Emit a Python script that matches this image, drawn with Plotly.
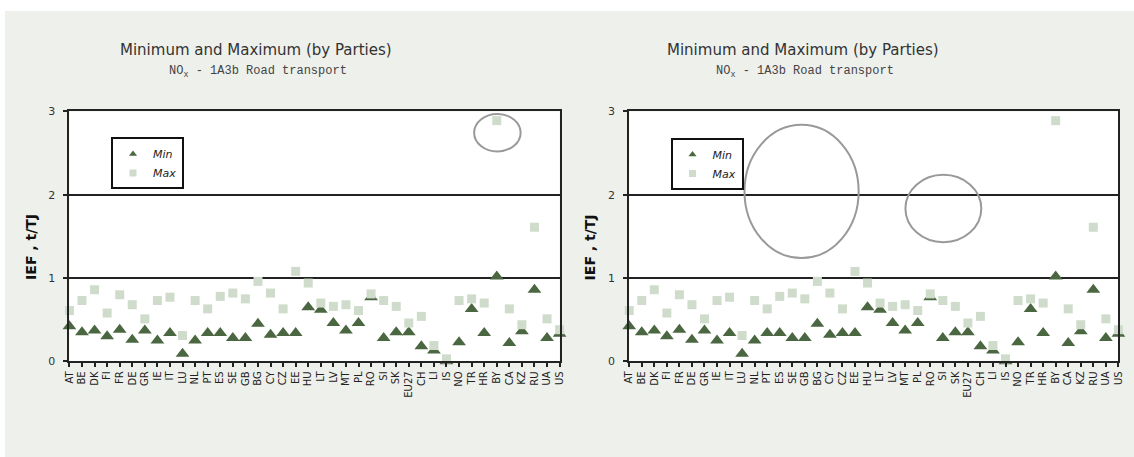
import plotly.graph_objects as go

countries = ["AT", "BE", "DK", "FI", "FR", "DE", "GR", "IE", "IT", "LU",
             "NL", "PT", "ES", "SE", "GB", "BG", "CY", "CZ", "EE", "HU",
             "LT", "LV", "MT", "PL", "RO", "SI", "SK", "EU27", "CH", "LI",
             "IS", "NO", "TR", "HR", "BY", "CA", "KZ", "RU", "UA", "US"]
min_vals = [0.42, 0.35, 0.37, 0.30, 0.38, 0.26, 0.37, 0.25, 0.34, 0.09,
            0.25, 0.34, 0.34, 0.28, 0.28, 0.45, 0.32, 0.34, 0.34, 0.65,
            0.62, 0.46, 0.37, 0.46, 0.77, 0.28, 0.35, 0.35, 0.18, 0.13,
            0.00, 0.23, 0.63, 0.34, 1.02, 0.22, 0.36, 0.86, 0.28, 0.33]
max_vals = [0.61, 0.73, 0.86, 0.58, 0.80, 0.68, 0.51, 0.73, 0.77, 0.31,
            0.73, 0.63, 0.78, 0.82, 0.75, 0.96, 0.82, 0.63, 1.08, 0.94,
            0.70, 0.66, 0.68, 0.61, 0.81, 0.73, 0.66, 0.46, 0.54, 0.19,
            0.03, 0.73, 0.75, 0.70, 2.89, 0.63, 0.44, 1.61, 0.51, 0.38]
y_ticks = [0, 1, 2, 3]

title_text = "Minimum and Maximum (by Parties)"
subtitle_text = "NO<sub>x</sub> - 1A3b Road transport"
y_title = "<b>IEF , t/TJ</b>"

# page: white strip 11px on top, 5px on the left; grey chart panel fills the rest
OX, OY = 5, 11
W, H = 1134 - OX, 457 - OY
MIN_COLOR = "#4a6741"
MAX_COLOR = "#cfdccb"
BG = "#eef0ec"


def px(x):
    return (x - OX) / W


def py(y):
    return 1 - (y - OY) / H


fig = go.Figure()

panels = [("x", "y", "legend"), ("x2", "y2", "legend2")]
for xa, ya, lg in panels:
    fig.add_trace(go.Scatter(
        x=countries, y=min_vals, mode="markers", name="<i>Min</i>",
        xaxis=xa, yaxis=ya, showlegend=False, cliponaxis=False,
        marker=dict(symbol="triangle-up", size=12, color=MIN_COLOR)))
    fig.add_trace(go.Scatter(
        x=countries, y=max_vals, mode="markers", name="<i>Max</i>",
        xaxis=xa, yaxis=ya, showlegend=False, cliponaxis=False,
        marker=dict(symbol="square", size=9, color=MAX_COLOR)))
    # legend entries (small symbols like the reference)
    fig.add_trace(go.Scatter(
        x=[None], y=[None], mode="markers", name="<i>Min</i>",
        xaxis=xa, yaxis=ya, legend=lg,
        marker=dict(symbol="triangle-up", size=7, color=MIN_COLOR)))
    fig.add_trace(go.Scatter(
        x=[None], y=[None], mode="markers", name="<i>Max</i>",
        xaxis=xa, yaxis=ya, legend=lg,
        marker=dict(symbol="square", size=7, color=MAX_COLOR)))

x_dom_left = [px(64), px(559)]
x_dom_right = [px(629.3), px(1123.3)]
y_dom = [py(365.7), py(108.3)]

xaxis_common = dict(
    type="category", range=[0, len(countries) - 1],
    tickmode="array", tickvals=countries, ticktext=countries,
    tickangle=-90, tickfont=dict(family="DejaVu Sans", size=10, color="#222"),
    ticks="outside", ticklen=4, tickwidth=1.5, tickcolor="#222",
    showline=True, linecolor="#222", linewidth=2, mirror=True,
    showgrid=False, zeroline=False, fixedrange=True)
yaxis_common = dict(
    range=[0, 3], tickvals=y_ticks,
    tickfont=dict(family="DejaVu Sans", size=11, color="#333"),
    ticks="outside", ticklen=4, tickwidth=1.5, tickcolor="#222",
    ticklabelstandoff=6,
    showline=True, linecolor="#222", linewidth=2, mirror=True,
    showgrid=True, gridcolor="#222", gridwidth=2, zeroline=False,
    fixedrange=True)

legend_common = dict(
    bgcolor="white", bordercolor="#111", borderwidth=2,
    font=dict(family="DejaVu Sans", size=11, color="#222"),
    xanchor="left", yanchor="top", itemwidth=30, tracegroupgap=0,
    entrywidth=36)

fig.update_layout(
    width=W, height=H,
    margin=dict(l=0, r=0, t=0, b=0),
    paper_bgcolor=BG, plot_bgcolor="white",
    xaxis=dict(domain=x_dom_left, anchor="y", **xaxis_common),
    yaxis=dict(domain=y_dom, anchor="x", **yaxis_common),
    xaxis2=dict(domain=x_dom_right, anchor="y2", **xaxis_common),
    yaxis2=dict(domain=y_dom, anchor="x2", **yaxis_common),
    legend=dict(x=px(106), y=py(135), **legend_common),
    legend2=dict(x=px(671), y=py(135.7), **legend_common),
    showlegend=True,
)

# titles
for cx, ytx in [(252, 25), (805, 590)]:
    fig.add_annotation(text=title_text, x=px(cx), y=py(45), xref="paper",
                       yref="paper", showarrow=False, xanchor="center",
                       yanchor="middle",
                       font=dict(family="DejaVu Sans", size=15, color="#333"))
    fig.add_annotation(text=subtitle_text, x=px(cx + 2), y=py(68),
                       xref="paper", yref="paper", showarrow=False,
                       xanchor="center", yanchor="middle",
                       font=dict(family="Liberation Mono", size=12,
                                 color="#444"))
    fig.add_annotation(text=y_title, x=px(ytx), y=py(248), xref="paper",
                       yref="paper", showarrow=False, textangle=-90,
                       xanchor="center", yanchor="middle",
                       font=dict(family="DejaVu Sans", size=14, color="#111"))

# highlight ellipses
ellipses = [("x", "y", 32.2, 35.9, 2.52, 2.97),
            ("x2", "y2", 9.19, 18.29, 1.24, 2.84),
            ("x2", "y2", 22.02, 28.07, 1.43, 2.24)]
for xr, yr, x0, x1, y0, y1 in ellipses:
    fig.add_shape(type="circle", xref=xr, yref=yr, x0=x0, x1=x1, y0=y0,
                  y1=y1, line=dict(color="#999", width=2),
                  fillcolor="rgba(0,0,0,0)", layer="above")

fig.write_html("out.html",
               config={"displayModeBar": False},
               post_script="document.body.style.margin='%dpx 0 0 %dpx';"
                           "document.body.style.background='white';"
                           "document.body.style.overflow='hidden';"
                           % (OY, OX))
